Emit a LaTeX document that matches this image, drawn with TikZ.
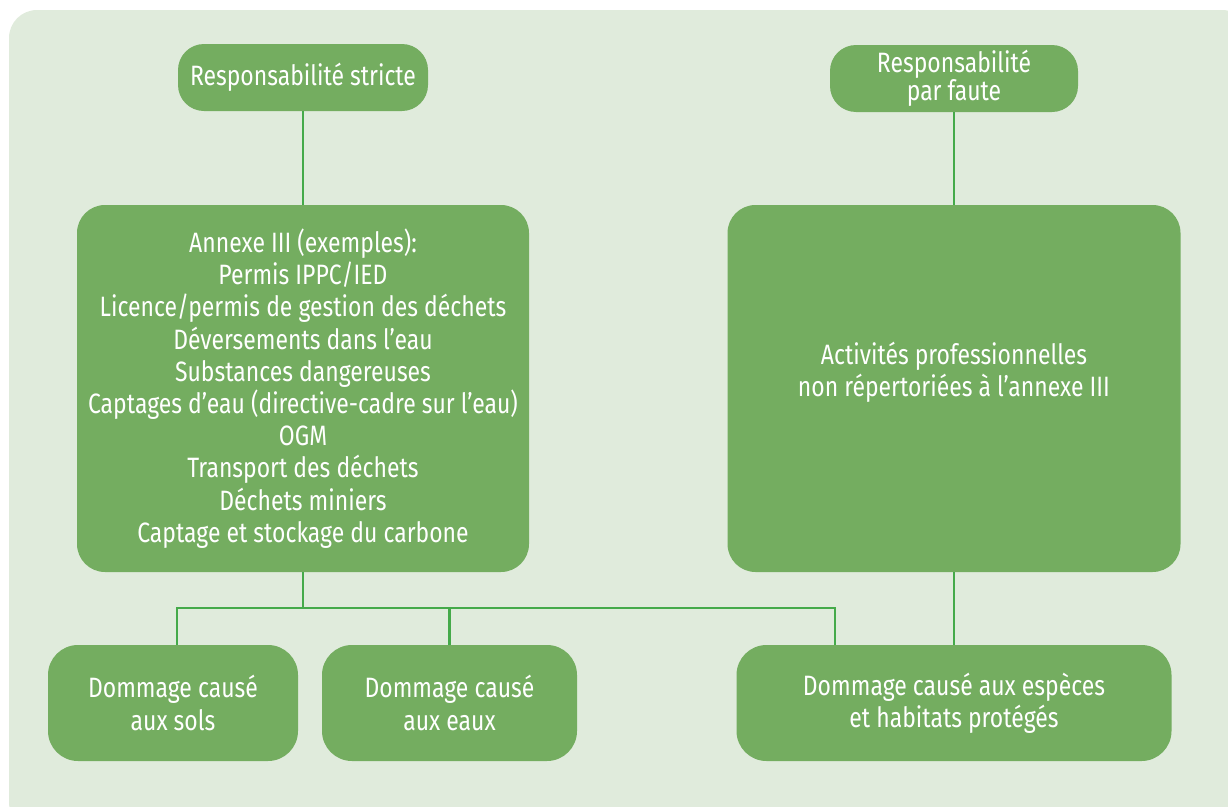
\documentclass[tikz,border=0pt]{standalone}
\usepackage{fontspec}
\setmainfont{Fira Sans}[FakeStretch=0.82]
\definecolor{bgc}{HTML}{E0EBDC}
\definecolor{boxc}{HTML}{74AD60}
\definecolor{linec}{HTML}{45AA4A}
\begin{document}
\begin{tikzpicture}[x=1pt,y=-1pt,
  box/.style={fill=boxc, rounded corners=26pt, inner sep=0pt, text=white, align=center,
    font=\fontsize{28}{32.2}\selectfont},
  txt/.style={inner sep=0pt, text=white, align=center, font=\fontsize{28}{32}\selectfont},
  conn/.style={draw=linec, line width=2.2pt}]
\useasboundingbox (0,0) rectangle (1228,806);
\fill[bgc, rounded corners=28pt] (9,10) rectangle (1250,830);
% top boxes
\node[box, minimum width=250pt, minimum height=67pt] (rs) at (303,77.5) {Responsabilité stricte};
\node[box, minimum width=248pt, minimum height=67pt, font=\fontsize{28}{22}\selectfont] (rf) at (954,78.5) {Responsabilité\\par faute};
% middle boxes
\node[box, minimum width=452pt, minimum height=367pt, rounded corners=28pt] (annex) at (303,388.5)
 {Annexe III (exemples):\\Permis IPPC/IED\\Licence/permis de gestion des déchets\\Déversements dans l’eau\\Substances dangereuses\\Captages d’eau (directive-cadre sur l’eau)\\OGM\\Transport des déchets\\Déchets miniers\\Captage et stockage du carbone};
\node[box, minimum width=453pt, minimum height=367pt, rounded corners=28pt] (act) at (954,388.5) {};
\node[txt] (acttxt) at (954,372) {Activités professionnelles\\non répertoriées à l’annexe III};
% bottom boxes
\node[box, minimum width=250pt, minimum height=116pt, rounded corners=30pt] (sols) at (173,703) {Dommage causé\\aux sols};
\node[box, minimum width=255pt, minimum height=116pt, rounded corners=30pt] (eaux) at (449.5,703) {Dommage causé\\aux eaux};
\node[box, minimum width=435pt, minimum height=116pt, rounded corners=30pt] (esp) at (954,703) {Dommage causé aux espèces\\et habitats protégés};
% connectors
\coordinate (jl) at (177,608);
\coordinate (jr) at (835,608);
\draw[conn] (rs.south) -- (annex.north);
\draw[conn] (rf.south) -- (act.north);
\draw[conn] (act.south) -- (esp.north);
\draw[conn] (annex.south) -- (annex.south |- jl);
\draw[conn] (jl |- sols.north) -- (jl) -- (jr) -- (jr |- esp.north);
\draw[conn] (eaux.north) -- (eaux.north |- jl);
\end{tikzpicture}
\end{document}
